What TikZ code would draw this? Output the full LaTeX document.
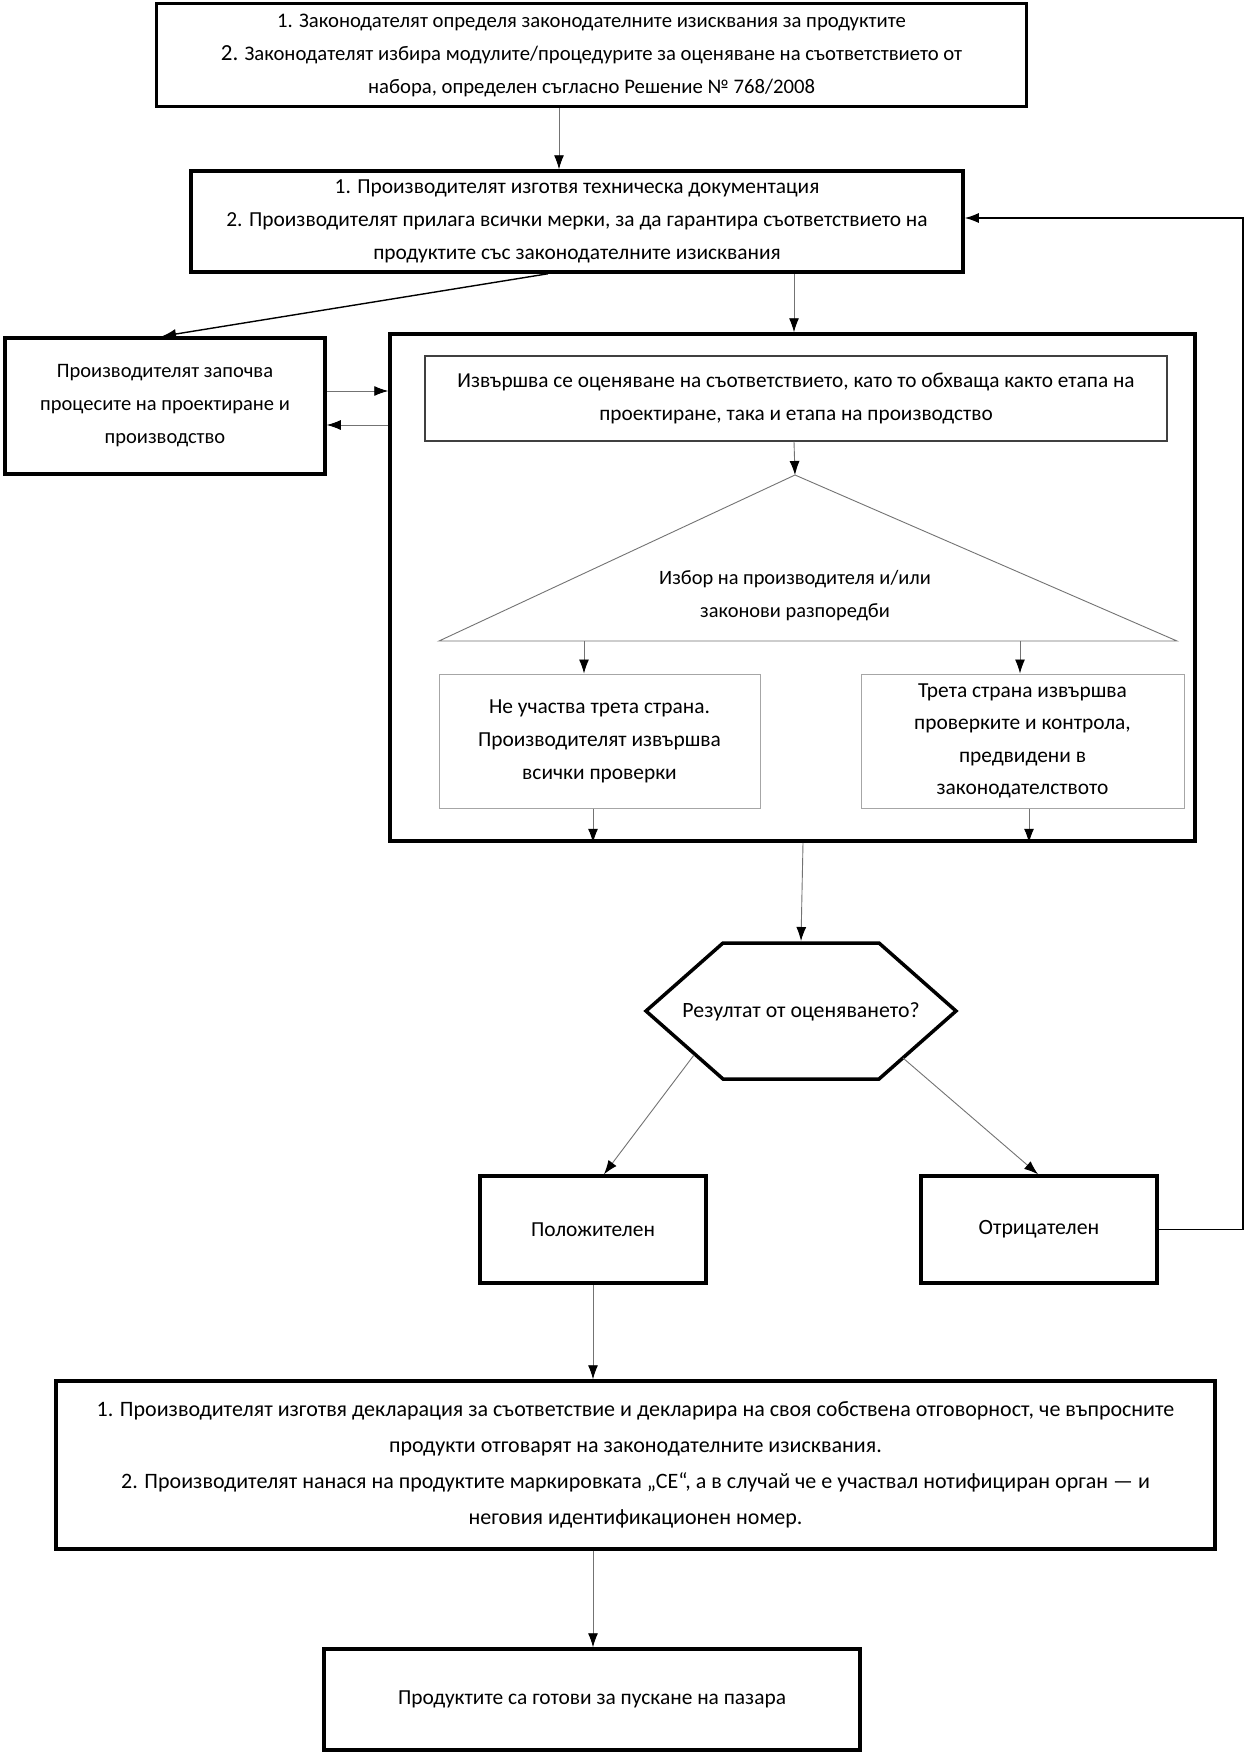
\documentclass[tikz,border=0pt]{standalone}
\usepackage{fontspec}
\setmainfont{Carlito}
\usetikzlibrary{arrows.meta,calc}
\begin{document}
\begin{tikzpicture}[x=1pt,y=-1pt,
  thickbox/.style={draw=black,line width=3.5pt,fill=white,align=center,inner sep=0pt,font=\fontsize{21.4}{33}\selectfont},
  thinbox/.style={draw=black!75,line width=1.2pt,fill=white,align=center,inner sep=0pt,font=\fontsize{21.3}{33.5}\selectfont},
  subbox/.style={draw=black!35,line width=1pt,fill=white,align=center,inner sep=0pt,font=\fontsize{21.4}{33}\selectfont},
  conn/.style={draw=black!55,line width=0.9pt,-{Latex[length=14pt,width=10pt,color=black]}},
  bconn/.style={draw=black,line width=1.4pt,-{Latex[length=14pt,width=10pt,color=black]}},
  plain/.style={font=\fontsize{20.4}{33}\selectfont,align=center,inner sep=0pt}]
\useasboundingbox (0,0) rectangle (1259,1753);
\fill[white] (0,0) rectangle (1259,1753);

\node[thickbox,minimum width=870,minimum height=103,font=\fontsize{20.7}{33}\selectfont] (box1) at (591.5,55)
  {1. Законодателят определя законодателните изисквания за продуктите\\
   {\fontsize{23}{33}\selectfont 2.} Законодателят избира модулите/процедурите за оценяване на съответствието от\\
   набора, определен съгласно Решение № 768/2008};

\node[thickbox,minimum width=772,minimum height=101] (box2) at (577,221.5)
  {1. Производителят изготвя техническа документация\\
   2. Производителят прилага всички мерки, за да гарантира съответствието на\\
   продуктите със законодателните изисквания};

\node[thickbox,minimum width=320,minimum height=136,font=\fontsize{20.5}{33}\selectfont] (box3) at (165,406)
  {Производителят започва\\ процесите на проектиране и\\ производство};

\node[thickbox,minimum width=805,minimum height=507] (big) at (792.5,587.5) {};

\node[thinbox,minimum width=742,minimum height=85] (inner) at (796,398.5)
  {Извършва се оценяване на съответствието, като то обхваща както етапа на\\
   проектиране, така и етапа на производство};

% triangle
\coordinate (tA) at (795,475);
\coordinate (tL) at (439,641);
\coordinate (tR) at (1177,641);
\draw[draw=black!55,line width=0.9pt] (tA) -- (tR) -- (tL) -- cycle;
\node[plain] (tri) at (795,596) {Избор на производителя и/или\\ законови разпоредби};

\node[subbox,minimum width=321,minimum height=134] (subL) at (599.5,741)
  {Не участва трета страна.\\ Производителят извършва\\ всички проверки};
\node[subbox,minimum width=323,minimum height=134,font=\fontsize{21.4}{32.5}\selectfont] (subR) at (1022.5,741)
  {Трета страна извършва\\ проверките и контрола,\\ предвидени в\\ законодателството};

% hexagon
\coordinate (h1) at (646,1011);
\coordinate (h2) at (723,943);
\coordinate (h3) at (879,943);
\coordinate (h4) at (956,1011);
\coordinate (h5) at (879,1079);
\coordinate (h6) at (723,1079);
\draw[line width=3.5pt,line join=miter,fill=white] (h1) -- (h2) -- (h3) -- (h4) -- (h5) -- (h6) -- cycle;
\node[plain,font=\fontsize{21.8}{33}\selectfont] (hex) at (801,1012) {Резултат от оценяването?};
\coordinate (hexN) at (801,941);
\coordinate (hexL) at (694,1055);
\coordinate (hexR) at (903,1058);

\node[thickbox,minimum width=226,minimum height=107] (pos) at (593,1229.5) {Положителен};
\node[thickbox,minimum width=236,minimum height=107,font=\fontsize{21.8}{33}\selectfont] (neg) at (1039,1229.5) {Отрицателен};

\node[thickbox,minimum width=1159,minimum height=168,font=\fontsize{22}{36}\selectfont] (bottom) at (635.5,1465)
  {1. Производителят изготвя декларация за съответствие и декларира на своя собствена отговорност, че въпросните\\
   продукти отговарят на законодателните изисквания.\\
   2. Производителят нанася на продуктите маркировката „CE“, а в случай че е участвал нотифициран орган — и\\
   неговия идентификационен номер.};

\node[thickbox,minimum width=536,minimum height=101] (final) at (592,1699.5)
  {Продуктите са готови за пускане на пазара};

% x helper coordinates
\coordinate (x559) at (559,0);
\coordinate (x794) at (794,0);
\coordinate (x584) at (584,0);
\coordinate (x1020) at (1020,0);
\coordinate (x593) at (593,0);
\coordinate (x1029) at (1029,0);
\coordinate (x803) at (803,0);
\coordinate (y391) at (0,391);
\coordinate (y425) at (0,425);
\coordinate (y218) at (0,218);
\coordinate (fbx) at (1243,0);

% connectors
\draw[conn] (box1.south -| x559) -- (box2.north -| x559);
\draw[bconn] ($(box2.south)+(-29,0)$) -- ($(box3.north)+(-3,0)$);
\draw[conn] (box2.south -| x794) -- (big.north -| x794);
\draw[conn] (box3.east |- y391) -- (big.west |- y391);
\draw[conn] (big.west |- y425) -- (box3.east |- y425);
\draw[conn] (inner.south -| x794) -- (tA);
\draw[conn] (tL -| x584) -- (subL.north -| x584);
\draw[conn] (tL -| x1020) -- (subR.north -| x1020);
\draw[conn] (subL.south -| x593) -- (big.south -| x593);
\draw[conn] (subR.south -| x1029) -- (big.south -| x1029);
\draw[conn] (big.south -| x803) -- (hexN);
\draw[conn] (hexL) -- ($(pos.north)+(11,0)$);
\draw[conn] (hexR) -- ($(neg.north)+(-1,0)$);
\draw[conn] (pos.south) -- (bottom.north -| pos.south);
\draw[conn] (bottom.south -| pos.south) -- (final.north -| pos.south);
\draw[draw=black,line width=1.2pt,-{Latex[length=14pt,width=10pt,color=black]}]
  (neg.east) -- (neg.east -| fbx) -- (fbx |- y218) -- (box2.east |- y218);
\end{tikzpicture}
\end{document}
